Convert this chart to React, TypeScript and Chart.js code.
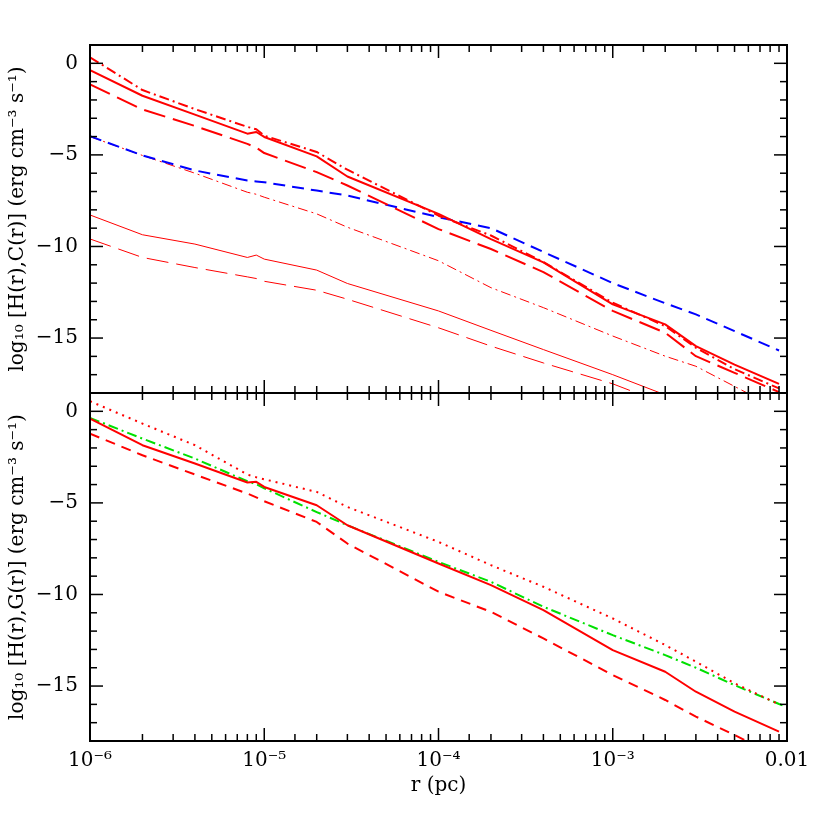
import React, { useEffect, useRef } from 'react';
import { Chart, registerables } from 'chart.js';

Chart.register(...registerables);

// radius r (pc)
const R = [1e-6, 2e-6, 4e-6, 8e-6, 9e-6, 1e-5, 2e-5, 3e-5, 1e-4, 2e-4, 4e-4, 1e-3, 2e-3, 3e-3, 5e-3, 9e-3, 1e-2];

// top panel: log10 H(r), C(r)
const topDashDotThick = [0.33, -1.46, -2.5, -3.47, -3.6, -3.95, -4.84, -5.81, -8.32, -9.4, -10.85, -13.07, -14.35, -15.53, -16.7, -17.75, null];
const topSolidThick = [-0.37, -1.77, -2.8, -3.84, -3.75, -4.02, -5.08, -6.18, -8.22, -9.6, -10.87, -13.16, -14.25, -15.44, -16.45, -17.5, null];
const topLongDashThick = [-1.15, -2.52, -3.42, -4.4, -4.6, -4.9, -5.94, -6.67, -9.05, -10.14, -11.4, -13.52, -14.71, -15.99, -16.9, -17.95, null];
const topBlueDashed = [-3.98, -5.03, -5.85, -6.4, -6.45, -6.49, -6.95, -7.22, -8.4, -9.0, -10.3, -12.0, -13.1, -13.71, -14.62, -15.68, null];
const topDashDotThin = [-4.0, -5.03, -6.0, -7.04, -7.15, -7.31, -8.22, -8.95, -10.78, -12.25, -13.34, -14.89, -15.99, -16.54, -17.64, -18.9, null];
const topSolidThin = [-8.28, -9.36, -9.87, -10.6, -10.47, -10.69, -11.29, -12.02, -13.52, -14.58, -15.63, -17.0, -18.1, null, null, null, null];
const topLongDashThin = [-9.59, -10.6, -11.15, -11.66, -11.75, -11.9, -12.39, -12.88, -14.44, -15.44, -16.36, -17.5, -18.6, null, null, null, null];

// bottom panel: log10 H(r), G(r)
const botDotted = [0.55, -0.67, -1.85, -3.45, -3.6, -3.71, -4.4, -5.22, -7.13, -8.4, -9.58, -11.31, -12.76, -13.67, -14.85, -16.0, null];
const botSolid = [-0.4, -1.85, -2.85, -3.89, -3.85, -4.13, -5.13, -6.22, -8.31, -9.49, -10.85, -13.04, -14.22, -15.31, -16.4, -17.49, null];
const botGreenDashDot = [-0.36, -1.49, -2.58, -3.82, -3.98, -4.2, -5.5, -6.22, -8.22, -9.31, -10.67, -12.22, -13.31, -14.0, -14.95, -15.98, -16.13];
const botDashed = [-1.22, -2.4, -3.45, -4.49, -4.7, -4.91, -6.04, -7.22, -9.85, -10.95, -12.4, -14.4, -15.76, -16.67, -17.67, -18.9, null];

const X_MIN = 1e-6;
const X_MAX = 1e-2;
const Y_MIN = -18;
const Y_MAX = 1;
const X_TICK_LABELS: Record<string, string> = {
  '-6': '10⁻⁶',
  '-5': '10⁻⁵',
  '-4': '10⁻⁴',
  '-3': '10⁻³',
  '-2': '0.01',
};
const TOP_TITLE = 'log₁₀ [H(r),C(r)] (erg cm⁻³ s⁻¹)';
const BOT_TITLE = 'log₁₀ [H(r),G(r)] (erg cm⁻³ s⁻¹)';
const X_TITLE = 'r (pc)';

const FONT = 'DejaVu Serif';
const RED = '#ff0000';
const BLUE = '#0000ff';
const GREEN = '#00e000';

const pts = (arr: (number | null)[]) => R.map((x, i) => ({ x, y: arr[i] }));

const isDecade = (v: number) => Math.abs(Math.log10(v) - Math.round(Math.log10(v))) < 1e-6;

const panelPlugin = {
  id: 'panelFrame',
  beforeDatasetDraw(chart: any, args: any) {
    const ys = chart.scales[args.meta.yAxisID];
    const xs = chart.scales.x;
    const ctx = chart.ctx;
    ctx.save();
    ctx.beginPath();
    ctx.rect(xs.left, ys.top, xs.right - xs.left, ys.bottom - ys.top);
    ctx.clip();
  },
  afterDatasetDraw(chart: any) {
    chart.ctx.restore();
  },
  afterDraw(chart: any) {
    const ctx = chart.ctx;
    const xs = chart.scales.x;
    const line = (x1: number, y1: number, x2: number, y2: number) => {
      ctx.beginPath();
      ctx.moveTo(x1, y1);
      ctx.lineTo(x2, y2);
      ctx.stroke();
    };
    ['yTop', 'yBot'].forEach((id) => {
      const ys = chart.scales[id];
      ctx.save();
      ctx.strokeStyle = '#000';
      ctx.lineWidth = 1.5;
      ys.ticks.forEach((t: any) => {
        const v = t.value;
        if (v <= Y_MIN || v >= Y_MAX) return;
        const p = ys.getPixelForValue(v);
        const len = v % 5 === 0 ? 13 : 7;
        line(xs.left, p, xs.left + len, p);
        line(xs.right, p, xs.right - len, p);
      });
      xs.ticks.forEach((t: any) => {
        const v = t.value;
        if (v <= X_MIN * 1.0001 || v >= X_MAX * 0.9999) return;
        const p = xs.getPixelForValue(v);
        const len = isDecade(v) ? 13 : 7;
        line(p, ys.top, p, ys.top + len);
        line(p, ys.bottom, p, ys.bottom - len);
      });
      ctx.lineWidth = 2;
      ctx.strokeRect(xs.left, ys.top, xs.right - xs.left, ys.bottom - ys.top);
      ctx.restore();
    });
  },
};

const yTicks = {
  stepSize: 1,
  includeBounds: false,
  autoSkip: false,
  padding: 12,
  color: '#000',
  font: { family: FONT, size: 20 },
  callback: (v: any) => {
    const n = Number(v);
    if (n % 5 !== 0) return '';
    return n < 0 ? '−' + Math.abs(n) : String(n);
  },
};

export default function App() {
  const ref = useRef<HTMLCanvasElement | null>(null);

  useEffect(() => {
    if (!ref.current) return;
    const base = { pointRadius: 0, tension: 0, fill: false, borderCapStyle: 'butt' as const, borderJoinStyle: 'round' as const };
    const chart = new Chart(ref.current, {
      type: 'line',
      data: {
        datasets: [
          { ...base, label: 'H dash-dot', data: pts(topDashDotThick), yAxisID: 'yTop', borderColor: RED, borderWidth: 2, borderDash: [10, 4, 2, 4] },
          { ...base, label: 'H solid', data: pts(topSolidThick), yAxisID: 'yTop', borderColor: RED, borderWidth: 2 },
          { ...base, label: 'H long dash', data: pts(topLongDashThick), yAxisID: 'yTop', borderColor: RED, borderWidth: 2, borderDash: [22, 8] },
          { ...base, label: 'C', data: pts(topBlueDashed), yAxisID: 'yTop', borderColor: BLUE, borderWidth: 2, borderDash: [12, 7] },
          { ...base, label: 'thin dash-dot', data: pts(topDashDotThin), yAxisID: 'yTop', borderColor: RED, borderWidth: 1, borderDash: [10, 4, 2, 4] },
          { ...base, label: 'thin solid', data: pts(topSolidThin), yAxisID: 'yTop', borderColor: RED, borderWidth: 1 },
          { ...base, label: 'thin long dash', data: pts(topLongDashThin), yAxisID: 'yTop', borderColor: RED, borderWidth: 1, borderDash: [22, 8] },
          { ...base, label: 'dotted', data: pts(botDotted), yAxisID: 'yBot', borderColor: RED, borderWidth: 2, borderDash: [2, 5] },
          { ...base, label: 'solid', data: pts(botSolid), yAxisID: 'yBot', borderColor: RED, borderWidth: 2 },
          { ...base, label: 'G', data: pts(botGreenDashDot), yAxisID: 'yBot', borderColor: GREEN, borderWidth: 2, borderDash: [10, 4, 2, 4] },
          { ...base, label: 'dashed', data: pts(botDashed), yAxisID: 'yBot', borderColor: RED, borderWidth: 2, borderDash: [10, 7] },
        ],
      },
      options: {
        responsive: false,
        animation: false,
        devicePixelRatio: 1,
        layout: { padding: { left: 0, top: 45, right: 43, bottom: 0 } },
        plugins: { legend: { display: false }, tooltip: { enabled: false }, title: { display: false } },
        scales: {
          x: {
            type: 'logarithmic',
            position: 'bottom',
            min: X_MIN,
            max: X_MAX,
            grid: { display: false, drawTicks: false, tickLength: 0 },
            border: { display: false },
            ticks: {
              autoSkip: false,
              maxRotation: 0,
              padding: 8,
              color: '#000',
              font: { family: FONT, size: 20 },
              callback: (v: any) => {
                const n = Number(v);
                if (!isDecade(n)) return '';
                return X_TICK_LABELS[String(Math.round(Math.log10(n)))] ?? '';
              },
            },
            title: { display: true, text: X_TITLE, color: '#000', font: { family: FONT, size: 20 }, padding: { top: 0, bottom: 32 } },
            afterFit: (s: any) => { s.height = 89; },
          } as any,
          yTop: {
            type: 'linear',
            position: 'left',
            stack: 'panels',
            stackWeight: 1,
            weight: 2,
            min: Y_MIN,
            max: Y_MAX,
            grid: { display: false, drawTicks: false, tickLength: 0 },
            border: { display: false },
            ticks: yTicks,
            title: { display: true, text: TOP_TITLE, color: '#000', font: { family: FONT, size: 20 }, padding: { top: 6, bottom: 0 } },
            afterFit: (s: any) => { s.width = 90; },
          } as any,
          yBot: {
            type: 'linear',
            position: 'left',
            stack: 'panels',
            stackWeight: 1,
            weight: 1,
            min: Y_MIN,
            max: Y_MAX,
            grid: { display: false, drawTicks: false, tickLength: 0 },
            border: { display: false },
            ticks: yTicks,
            title: { display: true, text: BOT_TITLE, color: '#000', font: { family: FONT, size: 20 }, padding: { top: 6, bottom: 0 } },
            afterFit: (s: any) => { s.width = 90; },
          } as any,
        },
      },
      plugins: [panelPlugin],
    });
    return () => chart.destroy();
  }, []);

  return (
    <div style={{ position: 'fixed', left: 0, top: 0, width: 830, height: 830, background: '#fff' }}>
      <canvas ref={ref} width={830} height={830} style={{ display: 'block', width: 830, height: 830 }} />
    </div>
  );
}
